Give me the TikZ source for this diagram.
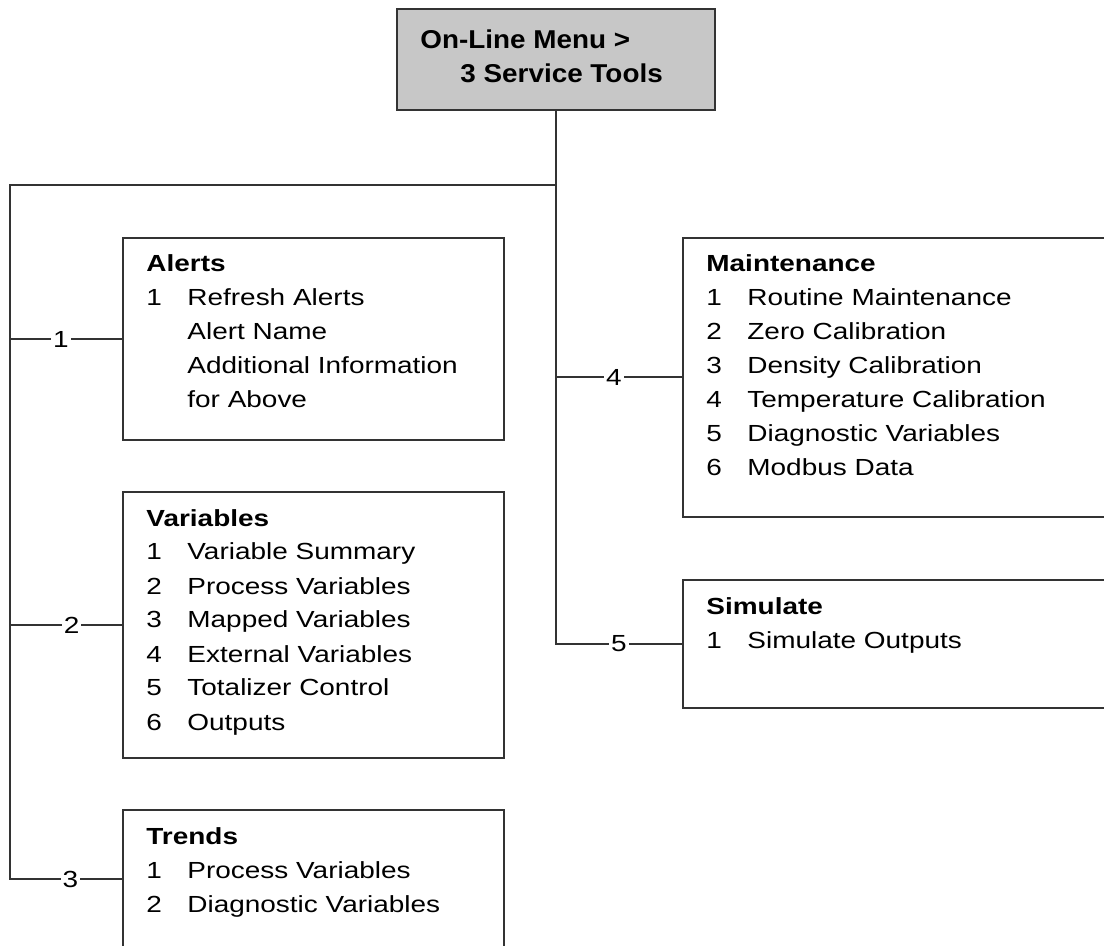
\documentclass[tikz,border=0pt]{standalone}
\usepackage{fontspec}
\setmainfont{Liberation Sans}[FakeStretch=1.2]
\newfontfamily\menufont{Liberation Sans}[FakeStretch=1.08]
\usepackage{tikz}
\usetikzlibrary{positioning}

\newcommand{\mitem}[2]{\makebox[20.5pt][l]{#1}#2}

\begin{document}
\begin{tikzpicture}[
        x=0.5pt, y=-0.5pt,
        menu/.style={draw=black!80, line width=1pt, rectangle, fill=black!22, minimum width=159pt, minimum height=50.5pt, inner sep=0pt, anchor=north west},
        group/.style={draw=black!80, line width=1pt, rectangle, fill=white, minimum width=190.5pt, inner sep=0pt, anchor=north west},
        list/.style={anchor=base west, align=left, inner sep=0pt, font=\fontsize{11.65pt}{17pt}\selectfont},
        wire/.style={draw=black!80, line width=1pt},
        num/.style={fill=white, inner xsep=1pt, inner ysep=0pt, font=\fontsize{11.65pt}{14pt}\selectfont}
    ]
        \useasboundingbox (0,0) rectangle (1104,946);
        \clip (0,0) rectangle (1104,946);

        % Menu de topo (texto ancorado na linha de base da ultima linha)
        \node[menu] (menu) at (396,8) {};
        \node[list, font=\menufont\bfseries\fontsize{12.9pt}{17pt}\selectfont] (menu-text) at ([shift={(24,75)}]menu.north west)
            {On-Line Menu >\\\hspace*{20pt}3 Service Tools};

        % Coluna da esquerda
        \node[group, minimum height=101pt] (alerts) at (122,237) {};
        \node[list] (alerts-text) at ([shift={(24,171)}]alerts.north west)
            {\textbf{Alerts}\\\mitem{1}{Refresh Alerts}\\\mitem{}{Alert Name}\\\mitem{}{Additional Information}\\\mitem{}{for Above}};

        \node[group, minimum height=133pt] (variables) at (122,491) {};
        \node[list] (variables-text) at ([shift={(24,239)}]variables.north west)
            {\textbf{Variables}\\\mitem{1}{Variable Summary}\\\mitem{2}{Process Variables}\\\mitem{3}{Mapped Variables}\\\mitem{4}{External Variables}\\\mitem{5}{Totalizer Control}\\\mitem{6}{Outputs}};

        \node[group, minimum height=69pt] (trends) at (122,809) {};
        \node[list] (trends-text) at ([shift={(24,103)}]trends.north west)
            {\textbf{Trends}\\\mitem{1}{Process Variables}\\\mitem{2}{Diagnostic Variables}};

        % Coluna da direita
        \node[group, minimum width=220pt, minimum height=139.5pt] (maintenance) at (682,237) {};
        \node[list] (maintenance-text) at ([shift={(24,239)}]maintenance.north west)
            {\textbf{Maintenance}\\\mitem{1}{Routine Maintenance}\\\mitem{2}{Zero Calibration}\\\mitem{3}{Density Calibration}\\\mitem{4}{Temperature Calibration}\\\mitem{5}{Diagnostic Variables}\\\mitem{6}{Modbus Data}};

        \node[group, minimum width=220pt, minimum height=64pt] (simulate) at (682,579) {};
        \node[list] (simulate-text) at ([shift={(24,69)}]simulate.north west)
            {\textbf{Simulate}\\\mitem{1}{Simulate Outputs}};

        % Ligacoes
        \coordinate (split) at (menu.south |- 0,185);
        \coordinate (corner) at (10,185);
        \draw[wire] (menu.south) -- (split) -- (corner) -- (corner |- trends.west)
            -- node[num, pos=0.54] {3} (trends.west);
        \draw[wire] (corner |- alerts.west) -- node[num, pos=0.455] {1} (alerts.west);
        \draw[wire] (corner |- variables.west) -- node[num, pos=0.55] {2} (variables.west);
        \draw[wire] (split) -- (split |- simulate.west) -- node[num, pos=0.5] {5} (simulate.west);
        \draw[wire] (split |- maintenance.west) -- node[num, pos=0.46] {4} (maintenance.west);
\end{tikzpicture}
\end{document}
